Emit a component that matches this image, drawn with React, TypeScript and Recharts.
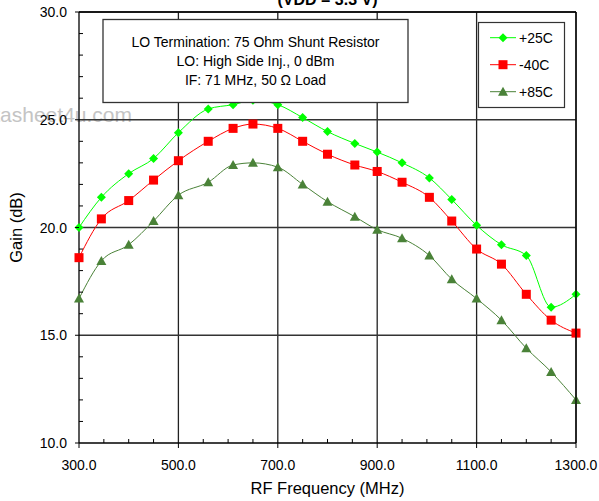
import React from "react"
import { Line, LineChart, ReferenceLine, XAxis, YAxis } from "recharts"

const freqs = [300, 345, 400, 450, 500, 560, 610, 650, 700, 750, 800, 855, 900, 950, 1005, 1050, 1100, 1150, 1200, 1250, 1300]
const gain25 = [20.0, 21.4, 22.5, 23.2, 24.4, 25.5, 25.7, 25.9, 25.7, 25.1, 24.45, 23.9, 23.5, 23.0, 22.3, 21.3, 20.1, 19.2, 18.7, 16.3, 16.9]
const gainM40 = [18.6, 20.4, 21.25, 22.2, 23.1, 24.0, 24.6, 24.8, 24.6, 24.0, 23.4, 22.9, 22.6, 22.1, 21.4, 20.3, 19.0, 18.3, 16.9, 15.7, 15.1]
const gain85 = [16.7, 18.45, 19.2, 20.3, 21.5, 22.1, 22.9, 23.0, 22.8, 22.0, 21.2, 20.5, 19.9, 19.5, 18.7, 17.6, 16.7, 15.7, 14.4, 13.3, 12.0]

const xTicks = [300, 350, 400, 450, 500, 550, 600, 650, 700, 750, 800, 850, 900, 950, 1000, 1050, 1100, 1150, 1200, 1250, 1300]
const xMajor = [300, 500, 700, 900, 1100, 1300]
const yTicks = [10, 11, 12, 13, 14, 15, 16, 17, 18, 19, 20, 21, 22, 23, 24, 25, 26, 27, 28, 29, 30]
const yMajor = [10, 15, 20, 25, 30]

const notes = ["LO Termination: 75 Ohm Shunt Resistor", "LO: High Side Inj., 0 dBm", "IF: 71 MHz, 50 \u03A9 Load"]

const GREEN = "#00ff00"
const RED = "#ff0000"
const DARK = "#4a8238"
const FONT = "'Liberation Sans', Arial, Helvetica, sans-serif"

const data = freqs.map((f, i) => ({ f, g25: gain25[i], m40: gainM40[i], g85: gain85[i] }))

function Marker({ kind, cx, cy }: { kind: string; cx: number; cy: number }) {
  if (kind === "diamond")
    return <path d={`M${cx},${cy - 4.5}L${cx + 4.5},${cy}L${cx},${cy + 4.5}L${cx - 4.5},${cy}Z`} fill={GREEN} />
  if (kind === "square") return <rect x={cx - 4.5} y={cy - 4.5} width={9} height={9} fill={RED} />
  return <path d={`M${cx},${cy - 5}L${cx + 5},${cy + 4}L${cx - 5},${cy + 4}Z`} fill={DARK} />
}

const series = [
  { key: "g25", name: "+25C", color: GREEN, kind: "diamond" },
  { key: "m40", name: "-40C", color: RED, kind: "square" },
  { key: "g85", name: "+85C", color: DARK, kind: "triangle" },
]

function XTick(props: any) {
  const { x, y, payload } = props
  const major = xMajor.includes(payload.value)
  return (
    <g>
      <line x1={x} x2={x} y1={y} y2={major ? y + 5 : y - 4} stroke="#000" />
      {major && (
        <text x={x} y={y + 26.5} textAnchor="middle" fontSize={14} fill="#000" fontFamily={FONT}>
          {payload.value.toFixed(1)}
        </text>
      )}
    </g>
  )
}

function YTick(props: any) {
  const { x, y, payload } = props
  const major = yMajor.includes(payload.value)
  return (
    <g>
      <line x1={x} x2={major ? x - 4 : x + 4} y1={y} y2={y} stroke="#000" />
      {major && (
        <text x={x - 12} y={y + 5} textAnchor="end" fontSize={14} fill="#000" fontFamily={FONT}>
          {payload.value.toFixed(1)}
        </text>
      )}
    </g>
  )
}

function LegendBox() {
  return (
    <g transform="translate(478,22)">
      <rect x={0.5} y={0.5} width={86} height={85} fill="#fff" stroke="#333" strokeWidth={1.2} />
      {series.map((s, i) => {
        const cy = 15.7 + i * 27
        return (
          <g key={s.key}>
            <line x1={12} x2={38} y1={cy} y2={cy} stroke={s.color} strokeWidth={1} />
            <Marker kind={s.kind} cx={25} cy={cy} />
            <text x={41} y={cy + 5} fontSize={14} fontFamily={FONT} fill="#000">
              {s.name}
            </text>
          </g>
        )
      })}
    </g>
  )
}

export default function App() {
  return (
    <div style={{ position: "absolute", left: 0, top: 0, width: 599, height: 501, fontFamily: FONT, background: "#fff" }}>
      <div style={{ position: "absolute", left: 0, top: 0 }}>
        <svg width={599} height={501}>
          <text x={132} y={122} textAnchor="end" fontSize={21} fill="#c4c4c4" fontFamily={FONT}>
            datasheet4u.com
          </text>
        </svg>
      </div>
      <LineChart width={599} height={501} data={data} margin={{ top: 12, right: 23, bottom: 0, left: 0 }}>
        {xMajor.slice(1).map((v) => (
          <ReferenceLine key={`vx${v}`} x={v} stroke="#222" strokeWidth={1.3} />
        ))}
        {yMajor.slice(1).map((v) => (
          <ReferenceLine key={`hy${v}`} y={v} stroke="#333" strokeWidth={1.3} />
        ))}
        <XAxis
          dataKey="f"
          type="number"
          domain={[300, 1300]}
          ticks={xTicks}
          interval={0}
          height={58}
          tickSize={0}
          tickMargin={0}
          tick={<XTick />}
          axisLine={{ stroke: "#000", strokeWidth: 1.3 }}
          label={{
            content: (p: any) => (
              <text
                x={p.viewBox.x + p.viewBox.width / 2}
                y={p.viewBox.y + 51}
                textAnchor="middle"
                fontSize={16.5}
                fontFamily={FONT}
                fill="#000"
              >
                RF Frequency (MHz)
              </text>
            ),
          }}
        />
        <YAxis
          type="number"
          domain={[10, 30]}
          ticks={yTicks}
          interval={0}
          width={79}
          tickSize={0}
          tickMargin={0}
          tick={<YTick />}
          axisLine={{ stroke: "#000", strokeWidth: 1.3 }}
          label={{
            content: (p: any) => {
              const cy = p.viewBox.y + p.viewBox.height / 2
              return (
                <text
                  x={22}
                  y={cy}
                  transform={`rotate(-90 22 ${cy})`}
                  textAnchor="middle"
                  fontSize={16.5}
                  fontFamily={FONT}
                  fill="#000"
                >
                  Gain (dB)
                </text>
              )
            },
          }}
        />
        {series.map((s) => (
          <Line
            key={s.key}
            dataKey={s.key}
            name={s.name}
            type="monotone"
            stroke={s.color}
            strokeWidth={1}
            isAnimationActive={false}
            dot={(p: any) => <Marker key={`${s.key}-${p.index}`} kind={s.kind} cx={p.cx} cy={p.cy} />}
            activeDot={false}
          />
        ))}
      </LineChart>
      <div style={{ position: "absolute", left: 0, top: 0, pointerEvents: "none" }}>
        <svg width={599} height={501}>
          <text x={327.5} y={5} textAnchor="middle" fontSize={16} fontWeight="bold" fontFamily={FONT} fill="#000">
            (VDD = 3.3 V)
          </text>
          <line x1={79} x2={576} y1={12} y2={12} stroke="#000" strokeWidth={1.3} />
          <line x1={576} x2={576} y1={12} y2={443} stroke="#000" strokeWidth={1.3} />
          <rect x={103} y={19.5} width={305} height={83} fill="#fff" stroke="#333" strokeWidth={1.3} />
          {notes.map((t, i) => (
            <text key={t} x={255.5} y={46.6 + i * 19.2} textAnchor="middle" fontSize={14} fontFamily={FONT} fill="#000">
              {t}
            </text>
          ))}
          <LegendBox />
        </svg>
      </div>
    </div>
  )
}
